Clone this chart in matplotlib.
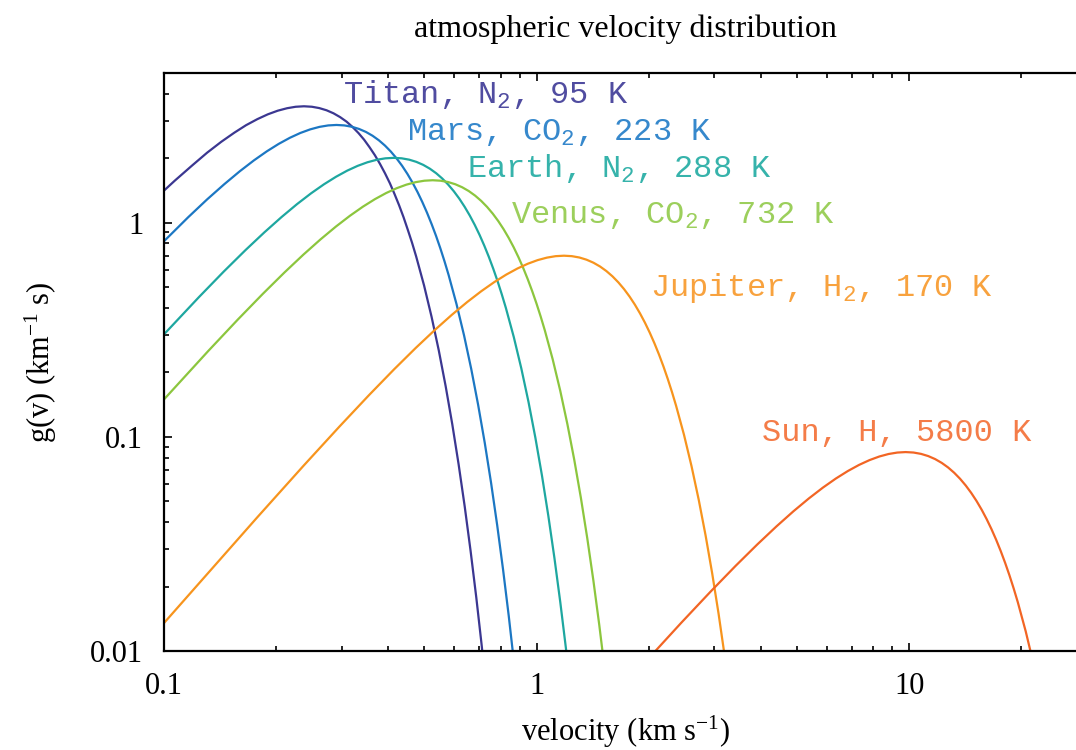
import numpy as np
import matplotlib
matplotlib.use('Agg')
import matplotlib.pyplot as plt
from matplotlib.ticker import FixedLocator, NullFormatter, LogLocator

plt.rcParams['mathtext.default'] = 'regular'

# velocity (km/s) and g(v) (km^-1 s)
titan_v = [0.1, 0.1069, 0.119, 0.1306, 0.1425, 0.1544, 0.166, 0.1781, 0.190, 0.2019, 0.214, 0.2256,
           0.2375, 0.2494, 0.261, 0.2731, 0.285, 0.2969, 0.309, 0.3206, 0.3325, 0.3444, 0.356, 0.3681,
           0.380, 0.3919, 0.404, 0.4156, 0.4275, 0.4394, 0.451, 0.4631, 0.475, 0.4988, 0.5225, 0.5463,
           0.570, 0.5938, 0.6175, 0.6413, 0.665, 0.6888, 0.7125, 0.760]
titan_g = [1.412, 1.5714, 1.850, 2.1241, 2.387, 2.6312, 2.852, 3.0454, 3.207, 3.3333, 3.424, 3.4779,
           3.496, 3.4784, 3.429, 3.3486, 3.242, 3.1121, 2.963, 2.7989, 2.623, 2.4403, 2.253, 2.0658,
           1.880, 1.6999, 1.526, 1.3610, 1.206, 1.0611, 0.928, 0.8063, 0.696, 0.5093, 0.3636, 0.2534,
           0.1725, 0.1146, 0.0745, 0.04727, 0.02933, 0.01779, 0.01055, 0.003475]

mars_v = [0.1, 0.1161, 0.1306, 0.1452, 0.1597, 0.1742, 0.1887, 0.2032, 0.2177, 0.2322, 0.2468, 0.2613,
          0.2758, 0.2903, 0.3048, 0.3193, 0.3338, 0.3484, 0.3629, 0.3774, 0.3919, 0.4064, 0.4209, 0.4355,
          0.4500, 0.4645, 0.4790, 0.4935, 0.5080, 0.5225, 0.5371, 0.5516, 0.5661, 0.5806, 0.6096, 0.6387,
          0.6677, 0.6967, 0.7258, 0.7548, 0.7838, 0.8128, 0.8419, 0.8709, 0.929]
mars_g = [0.8193, 1.060, 1.2857, 1.5136, 1.7378, 1.9525, 2.1527, 2.3337, 2.4916, 2.6235, 2.7271, 2.8013,
          2.8454, 2.8599, 2.8459, 2.8050, 2.7396, 2.6523, 2.5461, 2.4242, 2.2899, 2.1463, 1.9965, 1.8436,
          1.6901, 1.5385, 1.3907, 1.2486, 1.1135, 0.9865, 0.8682, 0.7592, 0.6596, 0.5695, 0.4167, 0.2975,
          0.2073, 0.1411, 0.09379, 0.06092, 0.03867, 0.02399, 0.01456, 0.008635, 0.002843]

earth_v = [0.1, 0.12405, 0.1447, 0.1654, 0.1861, 0.2068, 0.2274, 0.2481, 0.2688, 0.2895, 0.3101, 0.3308,
           0.3515, 0.3722, 0.3928, 0.4135, 0.4342, 0.4549, 0.4755, 0.4962, 0.5169, 0.5376, 0.5582, 0.5789,
           0.5996, 0.6203, 0.6409, 0.6616, 0.6823, 0.7030, 0.7236, 0.7443, 0.7650, 0.7857, 0.8063, 0.8270,
           0.8684, 0.9097, 0.9511, 0.9924, 1.0338, 1.0751, 1.1165, 1.1578, 1.1992, 1.2405, 1.3232]
earth_g = [0.3011, 0.4489, 0.5915, 0.7442, 0.9026, 1.0627, 1.2201, 1.3709, 1.5114, 1.6384, 1.7493, 1.8419,
           1.9147, 1.9667, 1.9977, 2.0079, 1.9980, 1.9694, 1.9234, 1.8622, 1.7876, 1.7020, 1.6077, 1.5069,
           1.4017, 1.2943, 1.1866, 1.0801, 0.9764, 0.8766, 0.7818, 0.6926, 0.6095, 0.5330, 0.4631, 0.3999,
           0.2926, 0.2089, 0.1456, 0.09906, 0.06585, 0.04277, 0.02715, 0.01685, 0.01022, 0.006062, 0.001996]

venus_v = [0.1, 0.1315, 0.1578, 0.1841, 0.2104, 0.2367, 0.263, 0.2893, 0.3156, 0.3419, 0.3682, 0.3945,
           0.4208, 0.4471, 0.4734, 0.4997, 0.526, 0.5523, 0.5786, 0.6049, 0.6312, 0.6575, 0.6838, 0.7101,
           0.7364, 0.7627, 0.789, 0.8153, 0.8416, 0.8679, 0.8942, 0.9205, 0.9468, 0.9731, 0.9994, 1.0257,
           1.052, 1.1046, 1.1572, 1.2098, 1.2624, 1.315, 1.3676, 1.4202, 1.4728, 1.5254, 1.578]
venus_g = [0.14955, 0.2519, 0.3529, 0.4650, 0.5850, 0.7096, 0.8354, 0.9591, 1.0776, 1.1881, 1.2880, 1.3751,
           1.4479, 1.5051, 1.5460, 1.5704, 1.5784, 1.5706, 1.5481, 1.5120, 1.4638, 1.4052, 1.3379, 1.2638,
           1.1845, 1.1019, 1.0175, 0.9328, 0.8491, 0.7676, 0.6891, 0.6146, 0.5444, 0.4791, 0.4190, 0.3641,
           0.3143, 0.2300, 0.1642, 0.1144, 0.07787, 0.05176, 0.03362, 0.02134, 0.01324, 0.008033, 0.004765]

jupiter_v = [0.1, 0.1776, 0.2368, 0.296, 0.3552, 0.4144, 0.4736, 0.5328, 0.592, 0.6512, 0.7104, 0.7696,
             0.8288, 0.888, 0.9472, 1.0064, 1.0656, 1.1248, 1.184, 1.2432, 1.3024, 1.3616, 1.4208, 1.48,
             1.5392, 1.5984, 1.6576, 1.7168, 1.776, 1.8352, 1.8944, 1.9536, 2.0128, 2.072, 2.1312, 2.1904,
             2.2496, 2.3088, 2.368, 2.4864, 2.6048, 2.7232, 2.8416, 2.96, 3.0784, 3.1968, 3.3152]
jupiter_g = [0.01351, 0.04193, 0.07326, 0.1119, 0.1568, 0.2066, 0.2599, 0.3152, 0.3711, 0.4261, 0.4787, 0.5278,
             0.5722, 0.6109, 0.6432, 0.6687, 0.6868, 0.6977, 0.7012, 0.6978, 0.6878, 0.6717, 0.6503, 0.6243,
             0.5944, 0.5615, 0.5262, 0.4895, 0.4520, 0.4144, 0.3772, 0.3410, 0.3061, 0.2730, 0.2419, 0.2129,
             0.1861, 0.1617, 0.1396, 0.1022, 0.07295, 0.05084, 0.03460, 0.02300, 0.01494, 0.009481, 0.005883]

sun_v = [1.956, 2.445, 2.934, 3.423, 3.912, 4.401, 4.89, 5.379, 5.868, 6.357, 6.846, 7.335, 7.824,
         8.313, 8.802, 9.291, 9.78, 10.269, 10.758, 11.247, 11.736, 12.225, 12.714, 13.203, 13.692,
         14.181, 14.67, 15.159, 15.648, 16.137, 16.626, 17.115, 17.604, 18.093, 18.582, 19.071, 19.56,
         20.538, 21.516]
sun_g = [0.008869, 0.01355, 0.01898, 0.02501, 0.03146, 0.03816, 0.04493, 0.05158, 0.05796, 0.06390, 0.06927,
         0.07396, 0.07787, 0.08095, 0.08315, 0.08446, 0.08489, 0.08448, 0.08326, 0.08132, 0.07873, 0.07558,
         0.07196, 0.06797, 0.06371, 0.05926, 0.05472, 0.05017, 0.04567, 0.04128, 0.03706, 0.03305, 0.02928,
         0.02577, 0.02254, 0.01958, 0.01691, 0.01237, 0.008831]

labels = ['Titan, N$_2$, 95 K', 'Mars, CO$_2$, 223 K', 'Earth, N$_2$, 288 K',
          'Venus, CO$_2$, 732 K', 'Jupiter, H$_2$, 170 K', 'Sun, H, 5800 K']
line_colors = ['#3b3791', '#1c77c3', '#1ea7a0', '#8cc63e', '#f7941d', '#f26524']
text_colors = ['#504ca0', '#3688cc', '#36b3ab', '#9ccf5c', '#f8a23e', '#f47c48']
label_xy = [(0.302, 3.64), (0.449, 2.44), (0.651, 1.64), (0.854, 1.0), (2.017, 0.456), (4.03, 0.0958)]

series = [(titan_v, titan_g), (mars_v, mars_g), (earth_v, earth_g),
          (venus_v, venus_g), (jupiter_v, jupiter_g), (sun_v, sun_g)]

serif = 'Liberation Serif'
mono = 'Liberation Mono'

fig = plt.figure(figsize=(10.76, 7.5), dpi=100)
ax = fig.add_axes([164 / 1076, 99 / 750, 923 / 1076, 578 / 750])

for (v, g), lc, tc, lab, (tx, ty) in zip(series, line_colors, text_colors, labels, label_xy):
    ax.plot(v, g, color=lc, lw=1.6)
    ax.text(tx, ty, lab, color=tc, family=mono, fontsize=23, va='baseline', ha='left')

ax.set_xscale('log')
ax.set_yscale('log')
ax.set_xlim(0.1, 30)
ax.set_ylim(0.01, 5)

ax.xaxis.set_major_locator(FixedLocator([0.1, 1, 10]))
ax.set_xticklabels(['0.1', '1', '10'])
ax.yaxis.set_major_locator(FixedLocator([0.01, 0.1, 1]))
ax.set_yticklabels(['0.01', '0.1', '1'])
ax.xaxis.set_minor_locator(LogLocator(base=10, subs=np.arange(2, 10)))
ax.yaxis.set_minor_locator(LogLocator(base=10, subs=np.arange(2, 10)))
ax.xaxis.set_minor_formatter(NullFormatter())
ax.yaxis.set_minor_formatter(NullFormatter())

ax.tick_params(which='both', direction='in', top=True, right=True, width=1.2)
ax.tick_params(which='major', length=6, pad=15)
ax.tick_params(which='minor', length=3.5)
for lbl in ax.get_xticklabels() + ax.get_yticklabels():
    lbl.set_fontfamily(serif)
    lbl.set_fontsize(22)
for sp in ax.spines.values():
    sp.set_linewidth(1.6)

ax.set_xlabel('velocity (km s$^{-1}$)', family=serif, fontsize=22, labelpad=9)
ax.set_ylabel('g(v) (km$^{-1}$ s)', family=serif, fontsize=22, labelpad=22)
ax.set_title('atmospheric velocity distribution', family=serif, fontsize=23, pad=26)

fig.savefig('out.png', dpi=100)
